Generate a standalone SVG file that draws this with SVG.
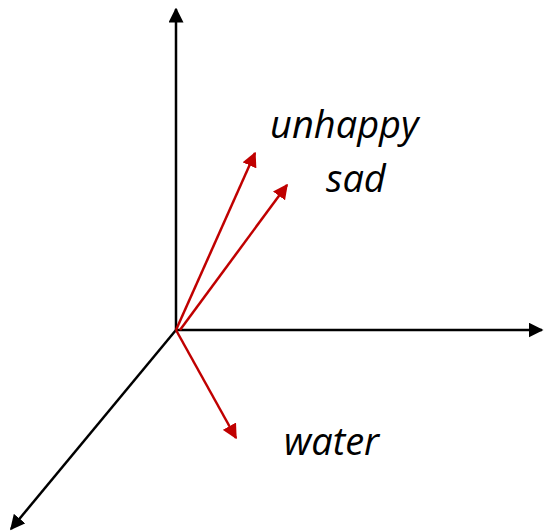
<svg xmlns="http://www.w3.org/2000/svg" width="544" height="532" viewBox="0 0 544 532">
<style>
.ax{stroke:#000;stroke-width:2.5;fill:none}
.rv{stroke:#C00000;stroke-width:2.5;fill:none}
.lbl{font-family:"Open Sans","Liberation Sans",sans-serif;font-style:italic;font-size:38px;fill:#000}
</style>
<defs>
<marker id="ab" viewBox="0 0 10 10" refX="9" refY="5" markerWidth="6" markerHeight="6" markerUnits="strokeWidth" orient="auto"><path d="M0,0 L10,5 L0,10 Z" fill="#000"/></marker>
<marker id="ar" viewBox="0 0 10 10" refX="9" refY="5" markerWidth="6" markerHeight="6" markerUnits="strokeWidth" orient="auto"><path d="M0,0 L10,5 L0,10 Z" fill="#C00000"/></marker>
</defs>
<rect width="544" height="532" fill="#fff"/>
<g id="connectors">
<line class="ax" x1="176" y1="330" x2="176" y2="9" marker-end="url(#ab)"/>
<line class="ax" x1="176" y1="330" x2="542" y2="330" marker-end="url(#ab)"/>
<line class="ax" x1="176" y1="330" x2="11" y2="529" marker-end="url(#ab)"/>
<line class="rv" x1="176" y1="330" x2="255" y2="153" marker-end="url(#ar)"/>
<line class="rv" x1="180" y1="330" x2="287" y2="185" marker-end="url(#ar)"/>
<line class="rv" x1="176" y1="330" x2="236" y2="438" marker-end="url(#ar)"/>
</g>
<g id="unhappy"><text class="lbl" x="270" y="138">unhappy</text></g>
<g id="sad"><text class="lbl" x="326" y="192">sad</text></g>
<g id="water"><text class="lbl" x="284" y="455">water</text></g>
</svg>
